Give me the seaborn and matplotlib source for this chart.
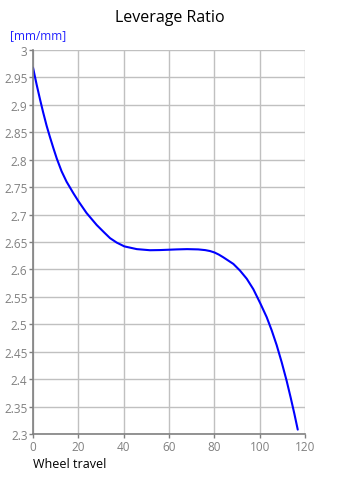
import matplotlib
matplotlib.use("Agg")
import matplotlib.pyplot as plt
import seaborn as sns
import pandas as pd

wheel_travel = [0, 1.6, 3.1, 4.5, 6.0, 7.5, 9.0, 10.5, 12.6, 14.8, 17.8, 20.1, 23.6, 28.1, 31.5, 34.0, 36.9, 40.3, 45.8, 51.6, 56.0, 60.4, 63.4, 68.0, 72.9, 76.0, 78.1, 80.0, 82.0, 84.0, 88.4, 91.3, 94.3, 97.2, 100.3, 103.1, 105.3, 107.5, 109.7, 111.9, 113.7, 115.3, 116.8]
leverage = [2.968, 2.937, 2.910, 2.886, 2.862, 2.841, 2.821, 2.802, 2.779, 2.760, 2.739, 2.724, 2.703, 2.681, 2.667, 2.657, 2.649, 2.642, 2.637, 2.635, 2.6353, 2.636, 2.6365, 2.637, 2.6365, 2.6352, 2.6335, 2.631, 2.627, 2.622, 2.610, 2.598, 2.583, 2.564, 2.538, 2.513, 2.489, 2.462, 2.431, 2.397, 2.366, 2.337, 2.308]
x_ticks = [0, 20, 40, 60, 80, 100, 120]
y_ticks = [2.3, 2.35, 2.4, 2.45, 2.5, 2.55, 2.6, 2.65, 2.7, 2.75, 2.8, 2.85, 2.9, 2.95, 3]
y_tick_labels = ["2.3", "2.35", "2.4", "2.45", "2.5", "2.55", "2.6", "2.65", "2.7", "2.75", "2.8", "2.85", "2.9", "2.95", "3"]

sns.set_style("white")
plt.rcParams['font.family'] = ['Open Sans', 'DejaVu Sans']

df = pd.DataFrame({"travel": wheel_travel, "ratio": leverage})

fig = plt.figure(figsize=(3.39, 4.85), dpi=100)
ax = fig.add_axes([33/339, 1-435/485, 272/339, 384/485])
sns.lineplot(data=df, x="travel", y="ratio", ax=ax, color="#0000ff", linewidth=1.5)

ax.set_xlim(0, 120)
ax.set_ylim(2.3, 3)
ax.set_xticks(x_ticks)
ax.set_yticks(y_ticks)
ax.set_yticklabels(y_tick_labels)
ax.grid(True, color="#c0c0c0", linewidth=1)
for s in ["top", "right"]:
    ax.spines[s].set_visible(False)
for s in ["left", "bottom"]:
    ax.spines[s].set_color("#808080")
    ax.spines[s].set_linewidth(1.2)
ax.tick_params(axis="both", colors="#808080", labelsize=8.5, length=3, width=1, pad=1, direction="out", left=True, bottom=True)
ax.set_xlabel("")
ax.set_ylabel("")

fig.text(0.5, 0.963, "Leverage Ratio", ha="center", va="center", fontsize=11.5, color="black")
fig.text(10/339, 1-36/485, "[mm/mm]", ha="left", va="center", fontsize=8.5, color="#2020ff")
fig.text(33/339, 1-465/485, "Wheel travel", ha="left", va="center", fontsize=9, color="black")

fig.savefig("out.png", dpi=100)
